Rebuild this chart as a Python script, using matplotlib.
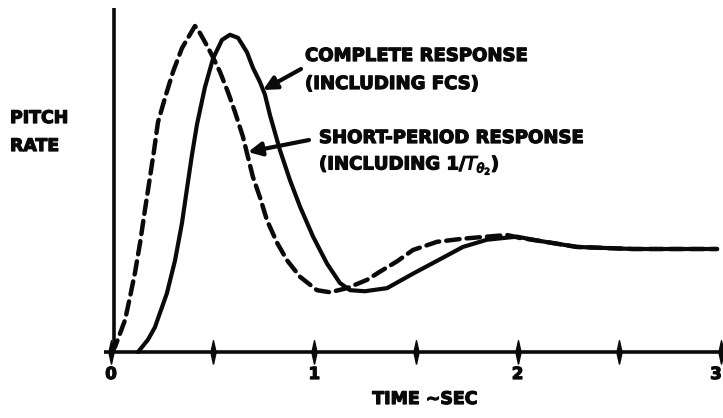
import matplotlib
matplotlib.use('Agg')
import matplotlib.pyplot as plt
import matplotlib.patheffects as pe

# pitch rate step responses (time in sec, rate normalised to steady state)
sp_time = [0, 0.02, 0.069, 0.093, 0.118, 0.143, 0.167, 0.192, 0.212, 0.231, 0.266, 0.305,
           0.349, 0.413, 0.428, 0.462, 0.497, 0.536, 0.576, 0.61, 0.649, 0.674, 0.698, 0.733,
           0.767, 0.817, 0.866, 0.93, 1.013, 1.077, 1.161, 1.259, 1.323, 1.407, 1.485, 1.604,
           1.731, 1.849, 1.948, 2.012, 2.11, 2.292, 2.568, 2.981]
sp_rate = [0, 0.05, 0.31, 0.53, 0.77, 1.06, 1.38, 1.70, 1.96, 2.23, 2.47, 2.72,
           2.95, 3.165, 3.13, 3.01, 2.88, 2.72, 2.52, 2.33, 2.09, 1.89, 1.70, 1.50,
           1.28, 1.06, 0.89, 0.73, 0.60, 0.58, 0.62, 0.70, 0.78, 0.88, 0.99, 1.07,
           1.10, 1.12, 1.136, 1.107, 1.078, 1.02, 1.00, 1.00]

full_time = [0.133, 0.182, 0.216, 0.275, 0.315, 0.349, 0.374, 0.398, 0.423, 0.462, 0.502, 0.546,
             0.585, 0.625, 0.669, 0.698, 0.733, 0.757, 0.782, 0.831, 0.88, 0.93, 0.994, 1.062,
             1.126, 1.176, 1.249, 1.358, 1.485, 1.618, 1.731, 1.849, 1.997, 2.11, 2.292, 2.568,
             2.981]
full_rate = [0, 0.12, 0.24, 0.57, 0.89, 1.25, 1.59, 1.91, 2.21, 2.57, 2.85, 3.03,
             3.08, 3.05, 2.91, 2.76, 2.62, 2.50, 2.30, 1.96, 1.67, 1.41, 1.12, 0.86,
             0.67, 0.60, 0.59, 0.62, 0.76, 0.90, 1.02, 1.09, 1.12, 1.078, 1.02, 1.00,
             1.00]

tick_pos = [0, 0.5, 1, 1.5, 2, 2.5, 3]
tick_labels = {0: '0', 1: '1', 2: '2', 3: '3'}

# pixel mapping of the scan: t=0 at x=111, 203.3 px per sec; zero rate at y=352, 103 px per unit
W, H = 723, 418
X0, XS = 111, 203.3
Y0, YS = 352, 103


def px(x, y):
    return (x - X0) / XS, (Y0 - y) / YS


fig = plt.figure(figsize=(W / 100, H / 100), dpi=100)
ax = fig.add_axes([0, 0, 1, 1])
ax.set_xlim((0 - X0) / XS, (W - X0) / XS)
ax.set_ylim((Y0 - H) / YS, Y0 / YS)
ax.axis('off')

ink = '#0a0a0a'
heavy = [pe.withStroke(linewidth=0.9, foreground=ink)]
bold = dict(family='DejaVu Sans', fontweight='bold', color=ink, path_effects=heavy)

# axes drawn by hand like the original sketch
ax.plot([px(104, 0)[0], px(723, 0)[0]], [0, 0], color=ink, lw=2.6, solid_capstyle='butt')
ax.plot([px(114, 0)[0]] * 2, [0, px(0, 8)[1]], color=ink, lw=2.6, solid_capstyle='butt')
spindle = [(0, -1), (0.22, 0), (0, 1), (-0.22, 0), (0, -1)]
ax.plot(tick_pos, [0] * len(tick_pos), ls='none', marker=spindle, ms=17, color=ink)

ax.plot(full_time, full_rate, color=ink, lw=3.0, solid_capstyle='round', solid_joinstyle='round')
ax.plot(sp_time, sp_rate, color=ink, lw=3.2, ls=(0, (3.0, 1.6)), dash_capstyle='round')

for t, s in tick_labels.items():
    x = t if t < 3 else px(716, 0)[0]
    ax.text(x, px(0, 374)[1], s, ha='center', va='center', fontsize=12, **bold)
ax.text(*px(425, 399), 'TIME ~SEC', ha='center', va='center', fontsize=12.5, **bold)

ax.text(*px(10, 118), 'PITCH', ha='left', va='center', fontsize=12.5, **bold)
ax.text(*px(10, 146), 'RATE', ha='left', va='center', fontsize=12.5, **bold)

ax.text(*px(305, 56), 'COMPLETE RESPONSE', ha='left', va='center', fontsize=13, **bold)
ax.text(*px(305, 84), '(INCLUDING FCS)', ha='left', va='center', fontsize=13, **bold)
ax.text(*px(319, 138), 'SHORT-PERIOD RESPONSE', ha='left', va='center', fontsize=13, **bold)
ax.text(*px(319, 165), r'(INCLUDING 1/$T_{\theta_2}$)', ha='left', va='center', fontsize=13, **bold)

arrow = dict(arrowstyle='-|>', lw=3, color=ink, mutation_scale=20, shrinkA=0, shrinkB=0)
ax.annotate('', xy=px(263, 90), xytext=px(301, 69), arrowprops=arrow)
ax.annotate('', xy=px(248, 152), xytext=px(309, 140), arrowprops=arrow)

fig.savefig('out.png', dpi=100, facecolor='white')
